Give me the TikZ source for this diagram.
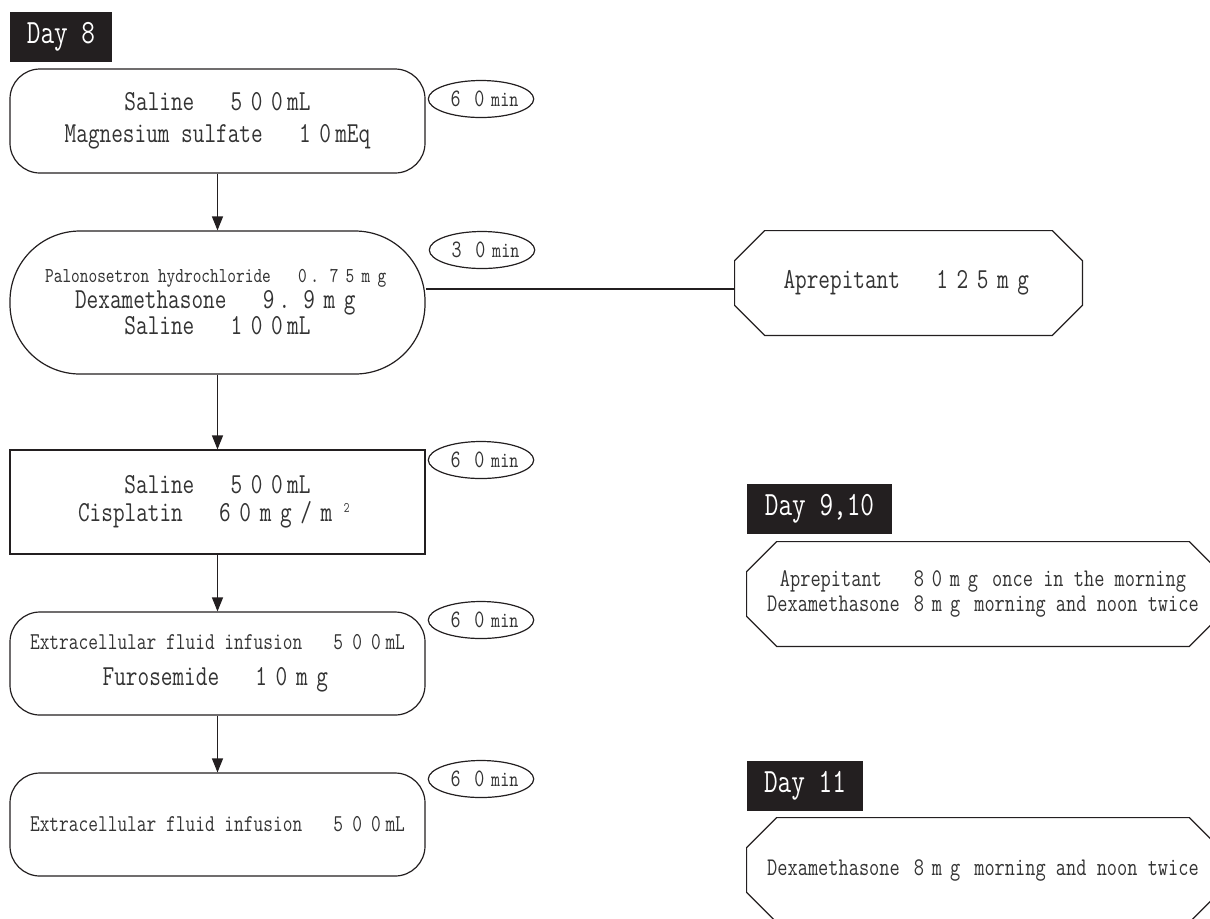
\documentclass[tikz,border=0pt]{standalone}
\usepackage{fontspec}
\setmainfont{Latin Modern Mono}[FakeStretch=0.78]
\usepackage{xcolor}
\usetikzlibrary{shapes.geometric,arrows.meta}

\definecolor{labelbg}{HTML}{231F20}
\definecolor{ink}{HTML}{333333}

% full-width cells for digits and units
\newcommand{\fw}[2][0.7]{\def\fwfac{#1}\fwloop#2\relax}
\def\fwloop#1{\ifx#1\relax\else\ifx#1.\makebox[\fwfac em][l]{#1}\else\makebox[\fwfac em]{#1}\fi\expandafter\fwloop\fi}
\newcommand{\fwsp}{\hspace*{0.7em}}

\begin{document}
\begin{tikzpicture}[x=0.5pt,y=-0.5pt,
    box/.style={draw=labelbg, line width=0.6pt, minimum width=207.5pt, inner sep=0pt, align=center, text=ink},
    octbox/.style={minimum width=#1, minimum height=52pt, inner sep=0pt, align=center, text=ink},
    daylabel/.style={fill=labelbg, text=white, inner sep=0pt, minimum height=25pt, font=\fontsize{17}{17}\selectfont},
    timer/.style={draw=labelbg, ellipse, line width=0.6pt, minimum width=44pt, minimum height=18.5pt, inner sep=0pt, text=ink, font=\fontsize{12.5}{12.5}\selectfont},
    flow/.style={-{Triangle[length=7pt,width=5.5pt]}, line width=0.6pt, draw=labelbg}]
    \useasboundingbox (0,0) rectangle (1210,918);

    % Day labels
    \node[daylabel, minimum width=51pt] (day8) at (61,37) {Day 8};
    \node[daylabel, minimum width=72.5pt] (day910) at (819.5,508.5) {Day 9,10};
    \node[daylabel, minimum width=58pt] (day11) at (805,786) {Day 11};

    % Day 8 infusions
    \node[box, rounded corners=15pt, minimum height=52pt, font=\fontsize{14.5}{16}\selectfont] (saline) at (217.5,121)
        {Saline\ \fwsp\fw{500}mL\\Magnesium sulfate\ \fwsp\fw{10}mEq};
    \node[box, rounded corners=35pt, minimum height=71.5pt, font=\fontsize{14.5}{13}\selectfont] (premed) at (217.5,302.5)
        {{\fontsize{10.6}{13}\selectfont Palonosetron hydrochloride\ \fwsp\fw[0.75]{0.75mg}}\\Dexamethasone\ \fwsp\fw{9.9mg}\\Saline\ \fwsp\fw{100}mL};
    \node[box, minimum height=52pt, font=\fontsize{14.5}{14}\selectfont] (cis) at (217.5,502)
        {Saline\ \fwsp\fw{500}mL\\Cisplatin\ \fwsp\fw{60mg/m²}};
    \node[box, rounded corners=15pt, minimum height=51.5pt, font=\fontsize{14.5}{14}\selectfont] (ecf1) at (217.5,663.5)
        {{\fontsize{12.1}{14}\selectfont Extracellular fluid infusion\ \fwsp\fw[0.78]{500}mL}\\[4pt]Furosemide\ \fwsp\fw{10mg}};
    \node[box, rounded corners=15pt, minimum height=51.5pt, font=\fontsize{12.1}{14}\selectfont] (ecf2) at (217.5,824.5)
        {Extracellular fluid infusion\ \fwsp\fw[0.78]{500}mL};

    % Durations
    \node[timer] (t1) at (481,99) {\fw[0.95]{60}{\fontsize{11}{11}\selectfont min}};
    \node[timer] (t2) at (482,250) {\fw[0.95]{30}{\fontsize{11}{11}\selectfont min}};
    \node[timer] (t3) at (481,460) {\fw[0.95]{60}{\fontsize{11}{11}\selectfont min}};
    \node[timer] (t4) at (481,620) {\fw[0.95]{60}{\fontsize{11}{11}\selectfont min}};
    \node[timer] (t5) at (481,779) {\fw[0.95]{60}{\fontsize{11}{11}\selectfont min}};

    % Oral drugs
    \node[octbox=173.5pt, font=\fontsize{14.5}{14}\selectfont] (apr) at (908.5,283)
        {Aprepitant\ \fwsp\fw{125mg}};
    \node[octbox=236pt, font=\fontsize{12.7}{12.5}\selectfont] (oral910) at (983,594)
        {Aprepitant\ \fwsp\fw[0.71]{80mg} once in the morning\\Dexamethasone \fw[0.71]{8mg} morning and noon twice};
    \node[octbox=236pt, font=\fontsize{12.7}{12.5}\selectfont] (oral11) at (983,870)
        {Dexamethasone \fw[0.71]{8mg} morning and noon twice};
    \foreach \n in {apr,oral910,oral11}
        \draw[line width=0.6pt, labelbg] ([xshift=15pt]\n.north west) -- ([xshift=-15pt]\n.north east)
            -- ([yshift=-15pt]\n.north east) -- ([yshift=15pt]\n.south east) -- ([xshift=-15pt]\n.south east)
            -- ([xshift=15pt]\n.south west) -- ([yshift=15pt]\n.south west) -- ([yshift=-15pt]\n.north west) -- cycle;

    % Edges
    \draw[flow] (saline) -- (premed);
    \draw[flow] (premed) -- (cis);
    \draw[flow] (cis) -- (ecf1);
    \draw[flow] (ecf1) -- (ecf2);
    \draw[line width=0.6pt, labelbg] ([yshift=-3pt]apr.west) -- ([yshift=-3pt]apr.west -| premed.east);
\end{tikzpicture}
\end{document}
